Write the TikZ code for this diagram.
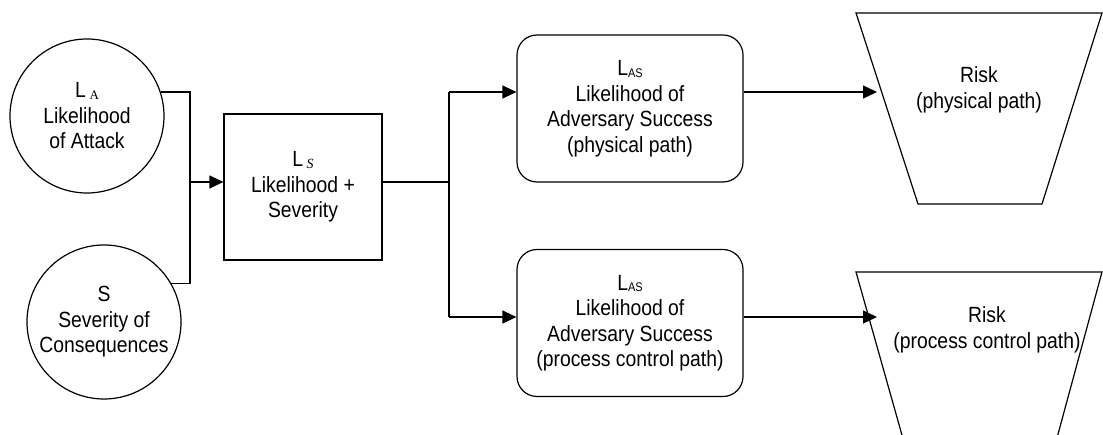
\documentclass[tikz,border=0pt]{standalone}
\usepackage{fontspec}
\setmainfont{Liberation Sans}[FakeStretch=0.88]
\newfontfamily\subserif{Liberation Serif}
\usetikzlibrary{arrows.meta}
\tikzset{
  every node/.style={font=\fontsize{22}{25.5}\selectfont, align=center},
  ln/.style={line width=1.2pt},
  arr/.style={ln, -{Triangle[length=14pt,width=13pt]}},
  circ/.style={ln, draw, circle, minimum size=154pt, inner sep=0pt},
  sqbox/.style={ln, draw, rectangle, minimum width=158pt, minimum height=146pt, inner sep=0pt},
  rbox/.style={ln, draw, rectangle, rounded corners=20pt, minimum width=226pt, minimum height=147pt, inner sep=0pt},
  txt/.style={inner sep=0pt}
}
\newcommand{\subA}{\raisebox{-2pt}{\fontsize{13}{13}\selectfont\subserif A}}
\newcommand{\subS}{\raisebox{-2pt}{\fontsize{14}{14}\selectfont\subserif\itshape S}}
\newcommand{\subAS}{\raisebox{-1.5pt}{\fontsize{12.5}{12.5}\selectfont AS}}
\begin{document}
\begin{tikzpicture}[x=1pt,y=-1pt]
\useasboundingbox (0,0) rectangle (1103,435);
\clip (0,0) rectangle (1103,435);

% nodes
\node[circ] (A) at (87,116) {L\,\subA\\Likelihood\\of Attack};
\node[circ] (S) at (104,322) {S\\Severity of\\Consequences};
\node[sqbox] (LS) at (303,187) {L\,\subS\\Likelihood +\\Severity};
\node[rbox] (P1) at (630,108.5) {L\subAS\\Likelihood of\\Adversary Success\\(physical path)};
\node[rbox] (P2) at (630,323) {L\subAS\\Likelihood of\\Adversary Success\\(process control path)};

% trapezoids
\draw[ln] (856,13) coordinate (T1a) -- (1102,13) -- (1042,204) -- (918,204) -- cycle;
\draw[ln] (909,460) -- (856,272) coordinate (T2a) -- (1102,272) -- (1051,460);
\node[txt] (R1) at (979,90) {Risk\\(physical path)};
\node[txt] (R2) at (987,330) {Risk\\(process control path)};

% junction coordinates
\coordinate (j1) at (190,182);
\coordinate (j2) at (449,182);
\coordinate (e1) at (877,92);
\coordinate (e2) at (877,317);
\coordinate (r1) at (0,92);
\coordinate (r2) at (0,317);

% connectors
\draw[ln] (A.18) -- (A.18 -| j1) -- (S.30 -| j1) -- (S.30);
\draw[arr] (j1) -- (j1 -| LS.west);
\draw[ln] (LS.east |- j2) -- (j2);
\draw[ln] (j2 |- r1) -- (j2 |- r2);
\draw[arr] (j2 |- r1) -- (P1.west |- r1);
\draw[arr] (j2 |- r2) -- (P2.west |- r2);
\draw[arr] (P1.east |- e1) -- (e1);
\draw[arr] (P2.east |- e2) -- (e2);
\end{tikzpicture}
\end{document}
